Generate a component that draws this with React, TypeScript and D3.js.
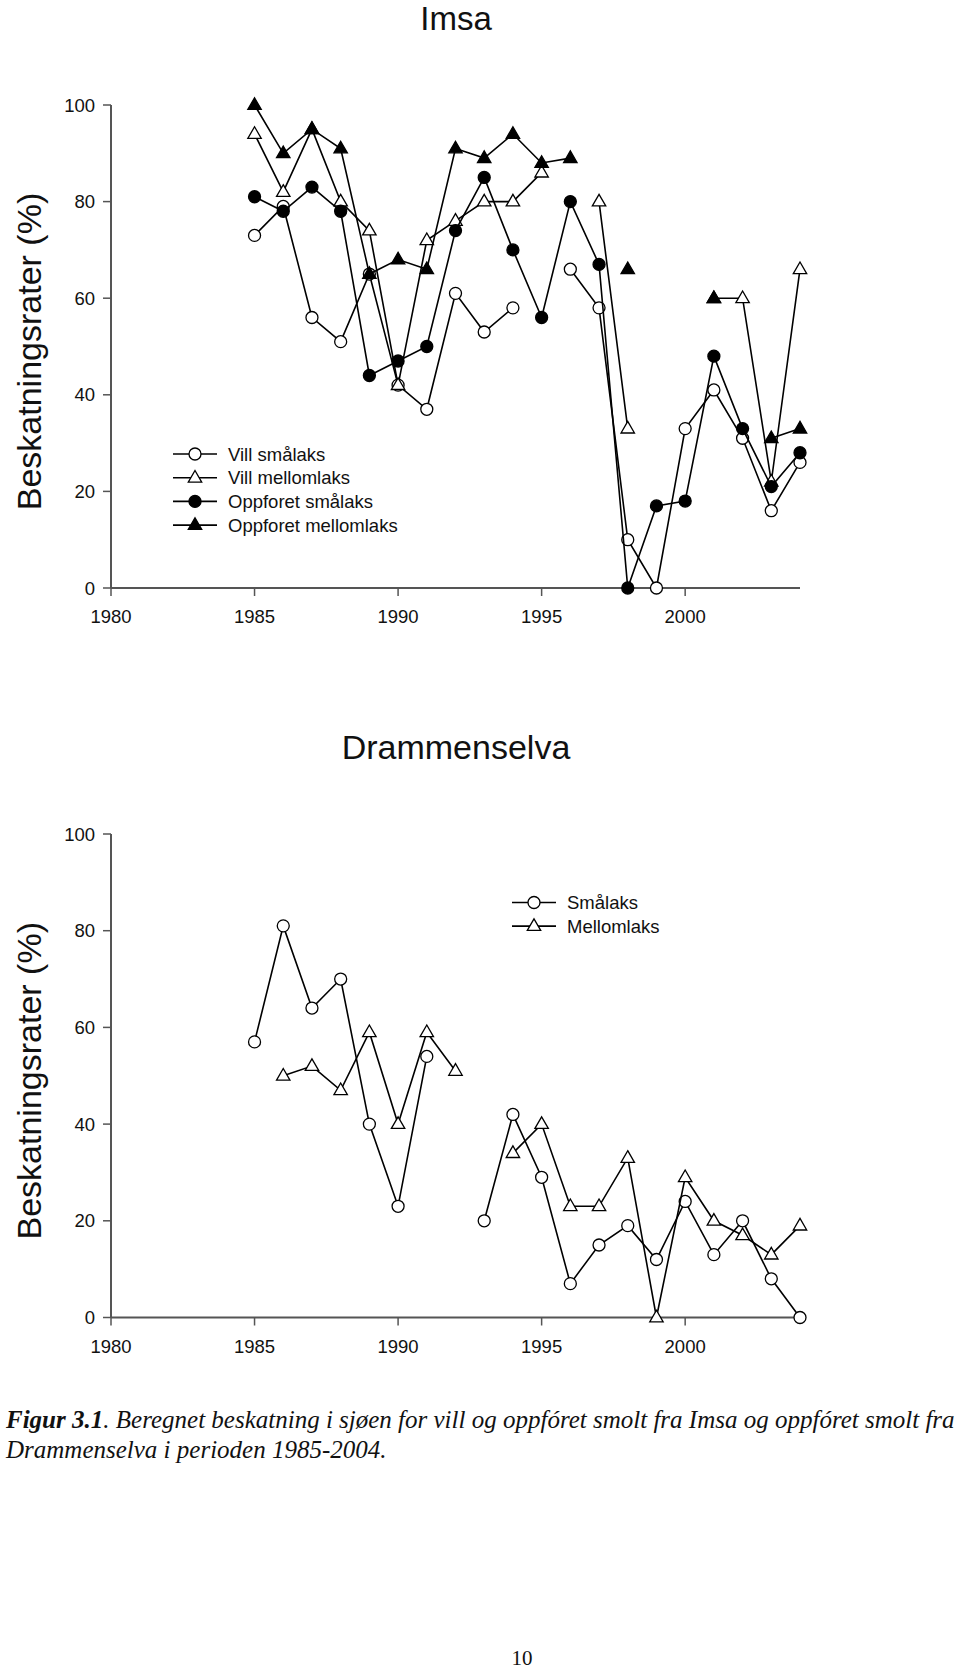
import React from "react";
import * as d3 from "d3";

const years = d3.range(1985, 2005);
const yTicks = [0, 20, 40, 60, 80, 100];
const xTicks = [1980, 1985, 1990, 1995, 2000];

// Imsa
const villSmalaks = [73, 79, 56, 51, 65, 42, 37, 61, 53, 58, null, 66, 58, 10, 0, 33, 41, 31, 16, 26];
const villMellomlaks = [94, 82, 95, 80, 74, 42, 72, 76, 80, 80, 86, null, 80, 33, null, null, 60, 60, 22, 66];
const oppSmalaks = [81, 78, 83, 78, 44, 47, 50, 74, 85, 70, 56, 80, 67, 0, 17, 18, 48, 33, 21, 28];
const oppMellomlaks = [100, 90, 95, 91, 65, 68, 66, 91, 89, 94, 88, 89, null, 66, null, null, 60, null, 31, 33];

// Drammenselva
const dSmalaks = [57, 81, 64, 70, 40, 23, 54, null, 20, 42, 29, 7, 15, 19, 12, 24, 13, 20, 8, 0];
const dMellomlaks = [null, 50, 52, 47, 59, 40, 59, 51, null, 34, 40, 23, 23, 33, 0, 29, 20, 17, 13, 19];

const topSeries = [
  { name: "Vill smålaks", values: villSmalaks, shape: "circle", fill: "white" },
  { name: "Vill mellomlaks", values: villMellomlaks, shape: "triangle", fill: "white" },
  { name: "Oppforet smålaks", values: oppSmalaks, shape: "circle", fill: "black" },
  { name: "Oppforet mellomlaks", values: oppMellomlaks, shape: "triangle", fill: "black" },
];
const bottomSeries = [
  { name: "Smålaks", values: dSmalaks, shape: "circle", fill: "white" },
  { name: "Mellomlaks", values: dMellomlaks, shape: "triangle", fill: "white" },
];

const FONT = "'Liberation Sans', Arial, Helvetica, sans-serif";
const SERIF = "'Liberation Serif', 'Times New Roman', serif";
const triPath = d3.symbol(d3.symbolTriangle, 78)() as string;

function Marker({ x, y, shape, fill }: any) {
  if (shape === "circle")
    return <circle cx={x} cy={y} r={6} fill={fill} stroke="black" strokeWidth={1.3} />;
  return <path d={triPath} transform={`translate(${x},${y + 0.5})`} fill={fill} stroke="black" strokeWidth={1.3} />;
}

function Panel({ series, y0, y100, legend }: any) {
  const x = d3.scaleLinear().domain([1980, 2004]).range([111, 800]);
  const y = d3.scaleLinear().domain([0, 100]).range([y0, y100]);
  const line = d3
    .line<any>()
    .defined((d) => d.v !== null)
    .x((d) => x(d.year))
    .y((d) => y(d.v));
  return (
    <g>
      <line x1={111} x2={111} y1={y(100)} y2={y(0)} stroke="#555" strokeWidth={2} />
      <line x1={111} x2={x(2004)} y1={y(0)} y2={y(0)} stroke="#555" strokeWidth={2} />
      {yTicks.map((t) => (
        <g key={"y" + t}>
          <line x1={103} x2={111} y1={y(t)} y2={y(t)} stroke="#555" strokeWidth={1.5} />
          <text x={95} y={y(t) + 6.5} textAnchor="end" fontFamily={FONT} fontSize={18.5} fill="#111">
            {t}
          </text>
        </g>
      ))}
      {xTicks.map((t) => (
        <g key={"x" + t}>
          <line x1={x(t)} x2={x(t)} y1={y(0)} y2={y(0) + 8} stroke="#555" strokeWidth={1.5} />
          <text x={x(t)} y={y(0) + 35} textAnchor="middle" fontFamily={FONT} fontSize={18.5} fill="#111">
            {t}
          </text>
        </g>
      ))}
      <text
        transform={`translate(41,${(y(0) + y(100)) / 2 + 5}) rotate(-90)`}
        textAnchor="middle"
        fontFamily={FONT}
        fontSize={34}
        fill="#111"
      >
        Beskatningsrater (%)
      </text>
      {series.map((s: any) => {
        const pts = years.map((yr, i) => ({ year: yr, v: s.values[i] }));
        return (
          <g key={s.name}>
            <path d={line(pts) as string} fill="none" stroke="black" strokeWidth={1.6} />
            {pts
              .filter((p) => p.v !== null)
              .map((p) => (
                <Marker key={p.year} x={x(p.year)} y={y(p.v)} shape={s.shape} fill={s.fill} />
              ))}
          </g>
        );
      })}
      {series.map((s: any, i: number) => {
        const ly = legend.y + i * legend.dy;
        return (
          <g key={"lg" + s.name}>
            <line x1={legend.x1} x2={legend.x2} y1={ly} y2={ly} stroke="black" strokeWidth={1.6} />
            <Marker x={(legend.x1 + legend.x2) / 2} y={ly} shape={s.shape} fill={s.fill} />
            <text x={legend.tx} y={ly + 6.5} fontFamily={FONT} fontSize={18.5} fill="#111">
              {s.name}
            </text>
          </g>
        );
      })}
    </g>
  );
}

export default function App() {
  return (
    <svg
      width={960}
      height={1670}
      style={{ position: "absolute", left: 0, top: 0, display: "block", background: "white" }}
    >
      <rect width={960} height={1670} fill="white" />
      <text x={456} y={30} textAnchor="middle" fontFamily={FONT} fontSize={33} fill="#111">
        Imsa
      </text>
      <Panel series={topSeries} y0={588} y100={105} legend={{ x1: 173, x2: 217, tx: 228, y: 454, dy: 23.7 }} />
      <text x={456} y={759} textAnchor="middle" fontFamily={FONT} fontSize={34} fill="#111">
        Drammenselva
      </text>
      <Panel series={bottomSeries} y0={1317.5} y100={834} legend={{ x1: 512, x2: 556, tx: 567, y: 902.5, dy: 23.6 }} />
      <text x={6} y={1428} fontFamily={SERIF} fontSize={25} fontStyle="italic" fill="#111">
        <tspan fontWeight="bold">Figur 3.1</tspan>
        <tspan>. Beregnet beskatning i sjøen for vill og oppfóret smolt fra Imsa og oppfóret smolt fra</tspan>
      </text>
      <text x={6} y={1458} fontFamily={SERIF} fontSize={25} fontStyle="italic" fill="#111">
        Drammenselva i perioden 1985-2004.
      </text>
      <text x={522} y={1665} textAnchor="middle" fontFamily={SERIF} fontSize={21} fill="#111">
        10
      </text>
    </svg>
  );
}
